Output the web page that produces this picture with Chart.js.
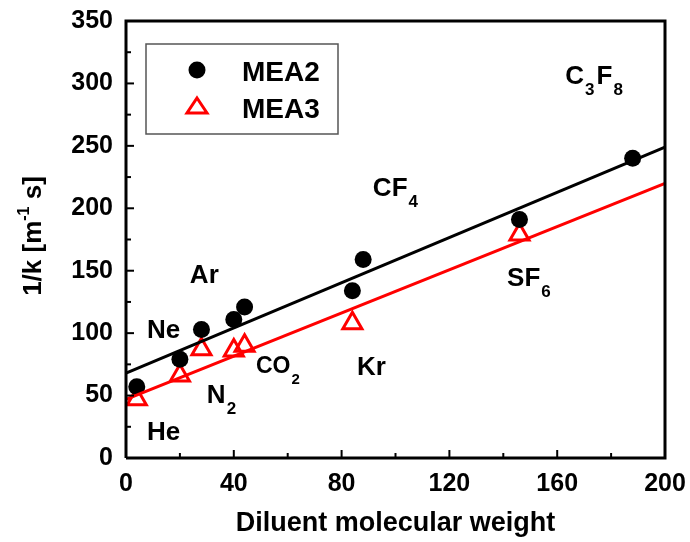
<!DOCTYPE html>
<html>
<head>
<meta charset="utf-8">
<script src="https://cdn.jsdelivr.net/npm/chart.js@4"></script>
<style>
  html, body { margin: 0; padding: 0; background: #fff; }
  #wrap { width: 690px; height: 542px; }
</style>
</head>
<body>
<div id="wrap"><canvas id="chart" width="690" height="542"></canvas></div>
<script>
const FONT = "'Liberation Sans', Arial, sans-serif";

// diluent molecular weights (He, Ne, N2, Ar, CO2, Kr, CF4, SF6, C3F8)
const mea2X = [4, 20, 28, 40, 44, 84, 88, 146, 188];
const mea2Y = [57, 79, 103, 111, 121, 134, 159, 191, 240];
// MEA3 (He, Ne, N2, Ar, CO2, Kr, SF6)
const mea3X = [4, 20, 28, 40, 44, 84, 146];
const mea3Y = [47, 66, 87, 86, 90, 108, 179];
// linear fits, end points
const fit2X = [0, 200];
const fit2Y = [68, 249];
const fit3X = [0, 200];
const fit3Y = [47, 220];

const xTicks = [0, 40, 80, 120, 160, 200];
const yTicks = [0, 50, 100, 150, 200, 250, 300, 350];

// gas labels: [parts, x value, y value, font size]
const gasLabels = [
  [[["He", 0]], 7.8, 14.5, 26],
  [[["Ne", 0]], 7.8, 96.5, 26],
  [[["Ar", 0]], 23.7, 140, 26],
  [[["N", 0], ["2", 1]], 30, 44, 26],
  [[["CO", 0], ["2", 1]], 48.2, 68, 23],
  [[["Kr", 0]], 85.7, 66.3, 26],
  [[["CF", 0], ["4", 1]], 91.6, 210, 26],
  [[["SF", 0], ["6", 1]], 141.4, 138, 26],
  [[["C", 0], ["3", 1], ["F", 0], ["8", 1]], 163, 299.6, 26],
];

const pts = (xs, ys) => xs.map((x, i) => ({ x: x, y: ys[i] }));

function drawChem(c, parts, x, y, size) {
  let cx = x;
  parts.forEach(([txt, sub]) => {
    const s = sub ? Math.round(size * 0.66) : size;
    c.font = `bold ${s}px ${FONT}`;
    c.fillText(txt, cx, sub ? y + 11 : y);
    cx += c.measureText(txt).width + (sub ? 2 : 1);
  });
}

const decor = {
  id: "decor",
  afterDraw(chart) {
    const c = chart.ctx;
    const a = chart.chartArea;
    const xs = chart.scales.x;
    const ys = chart.scales.y;
    c.save();
    c.strokeStyle = "#000";
    c.lineWidth = 3;
    // frame
    c.beginPath();
    c.moveTo(a.left, a.bottom);
    c.lineTo(a.left, a.top);
    c.lineTo(a.right, a.top);
    c.lineTo(a.right, a.bottom);
    c.lineTo(a.left, a.bottom);
    c.stroke();
    // inward ticks
    c.lineWidth = 2;
    for (let v = 0; v <= 200; v += 20) {
      const px = xs.getPixelForValue(v);
      const len = v % 40 === 0 ? 8 : 5;
      c.beginPath();
      c.moveTo(px, a.bottom);
      c.lineTo(px, a.bottom - len);
      c.stroke();
    }
    for (let v = 0; v <= 350; v += 25) {
      const py = ys.getPixelForValue(v);
      const len = v % 50 === 0 ? 8 : 5;
      c.beginPath();
      c.moveTo(a.left, py);
      c.lineTo(a.left + len, py);
      c.stroke();
    }
    // legend box
    c.strokeStyle = "#555";
    c.lineWidth = 1.5;
    c.strokeRect(146, 44, 192, 90);
    c.fillStyle = "#000";
    c.beginPath();
    c.arc(197, 70, 8.5, 0, Math.PI * 2);
    c.fill();
    c.strokeStyle = "#ff0000";
    c.lineWidth = 3;
    c.beginPath();
    c.moveTo(197, 98);
    c.lineTo(207, 113);
    c.lineTo(187, 113);
    c.closePath();
    c.stroke();
    c.fillStyle = "#000";
    c.font = `bold 28px ${FONT}`;
    c.textBaseline = "alphabetic";
    c.fillText("MEA2", 242, 81);
    c.fillText("MEA3", 242, 118);
    // gas labels
    gasLabels.forEach(([parts, vx, vy, size]) => {
      drawChem(c, parts, xs.getPixelForValue(vx), ys.getPixelForValue(vy), size);
    });
    // y title
    c.translate(41, 236);
    c.rotate(-Math.PI / 2);
    c.font = `bold 26px ${FONT}`;
    c.textAlign = "left";
    const t1 = "1/k [m", t2 = "-1", t3 = " s]";
    const w1 = c.measureText(t1).width;
    c.font = `bold 16px ${FONT}`;
    const w2 = c.measureText(t2).width;
    c.font = `bold 26px ${FONT}`;
    const w3 = c.measureText(t3).width;
    let sx = -(w1 + w2 + w3) / 2;
    c.fillText(t1, sx, 0);
    sx += w1;
    c.font = `bold 16px ${FONT}`;
    c.fillText(t2, sx, -12);
    sx += w2;
    c.font = `bold 26px ${FONT}`;
    c.fillText(t3, sx, 0);
    c.restore();
  },
};

const ctx = document.getElementById("chart").getContext("2d");
const chart = new Chart(ctx, {
  type: "scatter",
  data: {
    datasets: [
      {
        label: "MEA2 fit",
        data: pts(fit2X, fit2Y),
        showLine: true,
        borderColor: "#000",
        borderWidth: 3,
        pointRadius: 0,
      },
      {
        label: "MEA3 fit",
        data: pts(fit3X, fit3Y),
        showLine: true,
        borderColor: "#ff0000",
        borderWidth: 3,
        pointRadius: 0,
      },
      {
        label: "MEA2",
        data: pts(mea2X, mea2Y),
        pointStyle: "circle",
        pointRadius: 8.5,
        backgroundColor: "#000",
        borderColor: "#000",
        borderWidth: 0,
      },
      {
        label: "MEA3",
        data: pts(mea3X, mea3Y),
        pointStyle: "triangle",
        pointRadius: 11,
        backgroundColor: "rgba(0,0,0,0)",
        borderColor: "#ff0000",
        borderWidth: 3,
      },
    ],
  },
  options: {
    responsive: false,
    animation: false,
    layout: { padding: { top: 21, right: 25, left: 0, bottom: 0 } },
    plugins: {
      legend: { display: false },
      tooltip: { enabled: false },
    },
    scales: {
      x: {
        type: "linear",
        min: 0,
        max: 200,
        afterFit(scale) { scale.height = 84; },
        afterBuildTicks(scale) { scale.ticks = xTicks.map((v) => ({ value: v })); },
        grid: { display: false },
        border: { display: false },
        ticks: {
          color: "#000",
          font: { family: FONT, size: 25, weight: "bold" },
          padding: 3,
          maxRotation: 0,
        },
        title: {
          display: true,
          text: "Diluent molecular weight",
          color: "#000",
          font: { family: FONT, size: 27, weight: "bold" },
          padding: { top: 6, bottom: 2 },
        },
      },
      y: {
        type: "linear",
        min: 0,
        max: 350,
        afterFit(scale) { scale.width = 126; },
        afterBuildTicks(scale) { scale.ticks = yTicks.map((v) => ({ value: v })); },
        grid: { display: false },
        border: { display: false },
        ticks: {
          color: "#000",
          font: { family: FONT, size: 25, weight: "bold" },
          padding: 5,
        },
      },
    },
  },
  plugins: [decor],
});
</script>
</body>
</html>
